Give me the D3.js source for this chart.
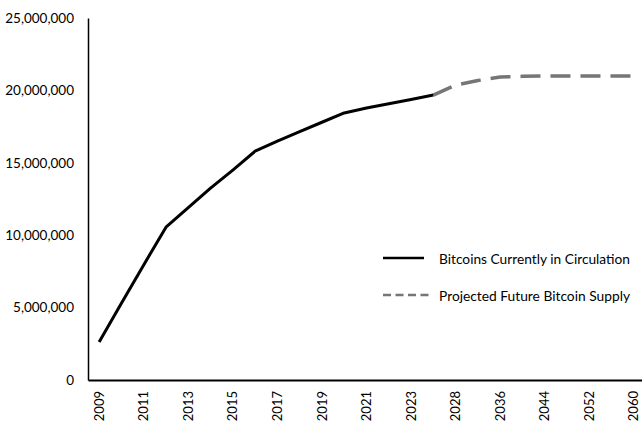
<!DOCTYPE html>
<html><head><meta charset="utf-8">
<script src="https://cdn.jsdelivr.net/npm/d3@7"></script>
<style>body{margin:0;background:#fff}svg{display:block}</style>
</head><body><svg id="c" width="642" height="421"></svg>
<script>
const categories = ["2009","2010","2011","2012","2013","2014","2015","2016","2017","2018","2019","2020","2021","2022","2023","2024","2028","2032","2036","2040","2044","2048","2052","2056","2060"];
const tickLabels = ["2009","2011","2013","2015","2017","2019","2021","2023","2028","2036","2044","2052","2060"];
const circulation = [2.62e6,5.3e6,7.95e6,10.55e6,11.9e6,13.25e6,14.5e6,15.8e6,16.5e6,17.15e6,17.8e6,18.44e6,18.78e6,19.08e6,19.37e6,19.68e6];
const projected = [null,null,null,null,null,null,null,null,null,null,null,null,null,null,null,19.68e6,20.37e6,20.68e6,20.92e6,20.97e6,21.0e6,21.0e6,21.0e6,21.0e6,21.0e6];
const yTicks = [0,5e6,10e6,15e6,20e6,25e6];
const seriesNames = ["Bitcoins Currently in Circulation","Projected Future Bitcoin Supply"];

const svg = d3.select("#c");
const font = "Lato, 'Open Sans', sans-serif";
const x = d3.scaleBand().domain(categories).range([88, 645]);
const xc = c => x(c) + x.bandwidth()/2;
const y = d3.scaleLinear().domain([0, 25e6]).range([380, 18]);

// y axis
const ya = svg.append("g").attr("transform","translate(88,0)")
  .call(d3.axisLeft(y).tickValues(yTicks).tickSize(0).tickPadding(14).tickFormat(d3.format(",")));
ya.select(".domain").attr("stroke","#000").attr("stroke-width",1.5);
ya.selectAll("text").attr("font-family",font).attr("font-size",13.5).attr("fill","#000");

// x axis
const xa = svg.append("g").attr("transform","translate(0,380)")
  .call(d3.axisBottom(x).tickValues(tickLabels).tickSize(0).tickPadding(0));
xa.select(".domain").attr("stroke","#000").attr("stroke-width",2);
xa.selectAll("text").attr("font-family",font).attr("font-size",13).attr("fill","#000")
  .attr("transform","rotate(-90)").attr("text-anchor","end").attr("dy","0.35em").attr("y",0).attr("x",-11);

const line = d3.line().defined(d => d != null).x((d,i) => xc(categories[i])).y(d => y(d));

svg.append("path").datum(projected).attr("d", line).attr("fill","none")
  .attr("stroke","#767676").attr("stroke-width",3.5).attr("stroke-dasharray","20,10");
svg.append("path").datum(circulation).attr("d", line).attr("fill","none")
  .attr("stroke","#000").attr("stroke-width",3).attr("stroke-linejoin","round");

// legend
const lg = svg.append("g");
lg.append("line").attr("x1",383).attr("x2",424).attr("y1",258).attr("y2",258).attr("stroke","#000").attr("stroke-width",2.5);
lg.append("line").attr("x1",383).attr("x2",429).attr("y1",295).attr("y2",295).attr("stroke","#767676").attr("stroke-width",2.5).attr("stroke-dasharray","8,4.5");
lg.append("text").attr("x",439).attr("y",259).attr("dy","0.35em").text(seriesNames[0])
  .attr("font-family",font).attr("font-size",14).attr("textLength",191).attr("lengthAdjust","spacingAndGlyphs");
lg.append("text").attr("x",439).attr("y",296).attr("dy","0.35em").text(seriesNames[1])
  .attr("font-family",font).attr("font-size",14).attr("textLength",191).attr("lengthAdjust","spacingAndGlyphs");
</script></body></html>
